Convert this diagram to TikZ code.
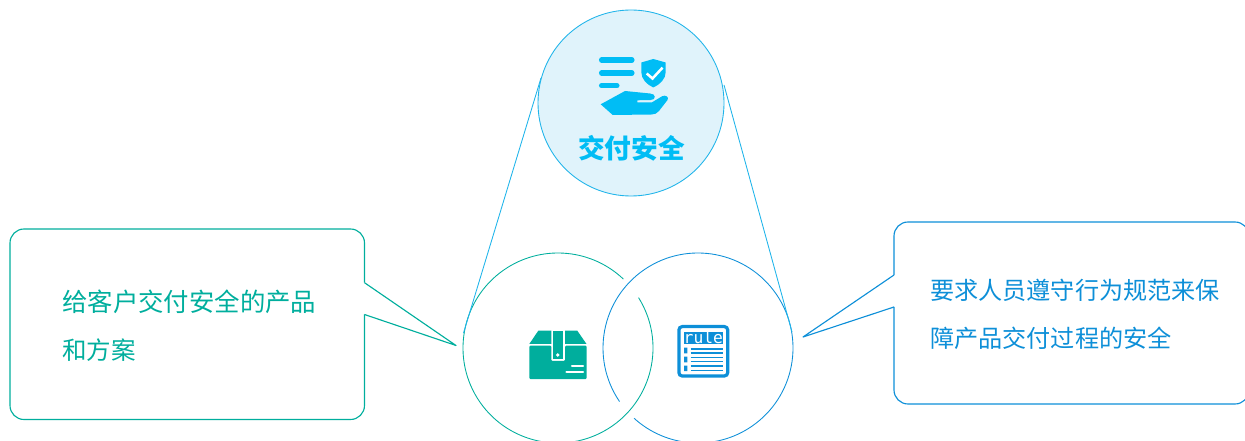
\documentclass[tikz,border=0pt]{standalone}
\usepackage{fontspec}
\setmainfont{Noto Sans CJK SC}
\newfontfamily\rulefont{DejaVu Sans Mono}
\definecolor{topc}{HTML}{1FB4EA}
\definecolor{topfill}{HTML}{E0F3FB}
\definecolor{iconc}{HTML}{00BDF5}
\definecolor{teal}{HTML}{00AE9D}
\definecolor{blu}{HTML}{0D8FD8}
\tikzset{
  px/.style={x=0.75pt,y=-0.75pt},
  thinln/.style={line width=0.65pt},
  boxln/.style={line width=0.85pt,line join=round},
  lbl/.style={inner sep=0pt,anchor=west}
}
\begin{document}
\begin{tikzpicture}[px]
\useasboundingbox (0,0) rectangle (1245,441);
\clip (0,0) rectangle (1245,441);
% lower circles, each with its gap at the overlap
\coordinate (cl) at (558,348);
\coordinate (cr) at (698,348);
\draw[teal,thinln] (cl) ++(-32:95) arc[start angle=-32,end angle=313.5,radius=95];
\draw[blu,thinln] (cr) ++(145.7:95) arc[start angle=145.7,end angle=492.3,radius=95];
% zoom lines
\coordinate (tl) at (541,78);
\coordinate (tr) at (724,85);
\coordinate (bl) at (463.5,333);
\coordinate (br) at (792,332);
\draw[topc,thinln] (tl) -- (bl);
\draw[topc,thinln] (tr) -- (br);
% top circle
\node[circle,draw=topc,fill=topfill,thinln,minimum size=139.5pt,inner sep=0pt] (top) at (631,103) {};
\node[inner sep=0pt,text=iconc,font=\bfseries\fontsize{20pt}{24pt}\selectfont] (toplabel) at (631.5,148) {交付安全};
% shield-hand icon
\begin{scope}[iconc]
  \draw[line width=3.8pt,line cap=round] (601.5,60) -- (632,60) (601.5,73) -- (632,73) (601.5,85.7) -- (617,85.7);
  \fill (653.3,59) -- (665.7,62.5) -- (665.7,72) .. controls (665.7,79) and (660,84.5) .. (653.3,87.5) .. controls (646.6,84.5) and (641.3,79) .. (641.3,72) -- (641.3,62.5) -- cycle;
  \draw[white,line width=1.9pt] (646.7,73.5) -- (652.5,78.5) -- (662.5,67.7);
  \fill (600.7,104.3) -- (625,91) -- (650,93.5) .. controls (656,93.5) and (656.5,100) .. (650.7,100) -- (637.3,100.3) -- (637.3,102.5) -- (651.7,102.5) -- (662,96.3) .. controls (665.5,94.5) and (669.5,97) .. (667.5,100) -- (659,111) .. controls (657,113.5) and (654.5,114.5) .. (651.7,114.5) -- (612.7,115) -- cycle;
\end{scope}
% left callout
\draw[teal,boxln,rounded corners=14*0.75pt] (364.5,282.7) -- (364.5,229) -- (10,229) -- (10,419.5) -- (364.5,419.5) -- (364.5,314.5);
\draw[teal,boxln] (364.5,282.7) -- (456,345.5) -- (364.5,314.5);
\node[lbl,text=teal,font=\fontsize{19.05pt}{22pt}\selectfont] (l1) at (62,302) {给客户交付安全的产品};
\node[lbl,text=teal,font=\fontsize{18.4pt}{22pt}\selectfont] (l2) at (62,350) {和方案};
% right callout
\draw[blu,boxln,rounded corners=14*0.75pt] (894,275) -- (894,222) -- (1249,222) -- (1249,404) -- (894,404) -- (894,307);
\draw[blu,boxln] (894,275) -- (803,337) -- (894,307);
\node[lbl,text=blu,font=\fontsize{18.1pt}{22pt}\selectfont] (r1) at (930,290) {要求人员遵守行为规范来保};
\node[lbl,text=blu,font=\fontsize{18.1pt}{22pt}\selectfont] (r2) at (930,338) {障产品交付过程的安全};
% box icon
\begin{scope}[teal]
  \fill (538.3,330.7) -- (551.3,330.7) -- (551.3,344) -- (529.3,344) -- cycle;
  \fill (565,330.7) -- (577.3,330.7) -- (586.5,344) -- (565,344) -- cycle;
  \fill[rounded corners=0.8pt] (529.3,345.7) -- (551.3,345.7) -- (551.3,361) -- (565,361) -- (565,345.7) -- (586.7,345.7) -- (586.7,379) -- (529.3,379) -- cycle;
  \fill (553,330.7) rectangle (562.7,359);
  \fill[white] (557.7,355) circle[radius=1.8];
  \draw[white,line width=1.6pt,line cap=round] (572,366) -- (583,366) (566.5,371.7) -- (583,371.7);
\end{scope}
% rule icon
\begin{scope}[blu]
  \draw[line width=2.4pt,rounded corners=2.5pt] (678.9,326.6) rectangle (727.7,376);
  \fill (684,332.3) rectangle (722.7,344);
  \node[inner sep=0pt,text=white,font=\rulefont\fontsize{12.2pt}{13pt}\selectfont] (ruletext) at (703.3,337.4) {rule};
  \fill (684,347.7) rectangle (687.3,353.3) (684,356.7) rectangle (687.3,362.3) (684,365.7) rectangle (687.3,371);
  \draw[line width=1pt] (690.7,349) -- (722.7,349) (690.7,353) -- (722.7,353) (690.7,357.7) -- (722.7,357.7) (690.7,361.7) -- (722.7,361.7) (690.7,366) -- (722.7,366) (690.7,370.3) -- (722.7,370.3);
\end{scope}
\end{tikzpicture}
\end{document}
